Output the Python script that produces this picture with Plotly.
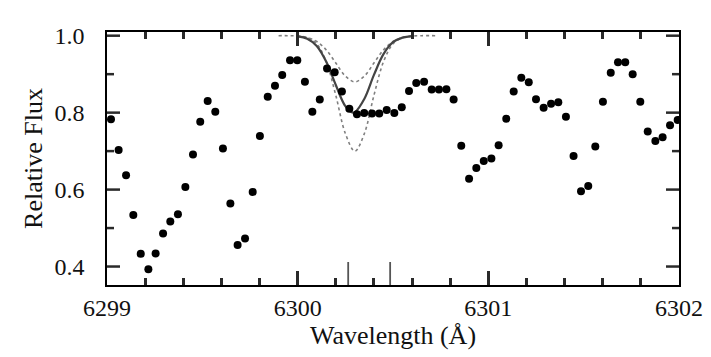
import plotly.graph_objects as go

# Observed spectrum (wavelength in Angstrom, relative flux)
wavelength = [
    6299.021, 6299.061, 6299.100, 6299.138, 6299.177, 6299.217, 6299.255, 6299.294,
    6299.332, 6299.372, 6299.411, 6299.451, 6299.489, 6299.528, 6299.568, 6299.608,
    6299.647, 6299.685, 6299.724, 6299.764, 6299.802, 6299.843, 6299.881, 6299.919,
    6299.960, 6299.998, 6300.038, 6300.077, 6300.116, 6300.154, 6300.194, 6300.232,
    6300.271, 6300.311, 6300.349, 6300.390, 6300.428, 6300.467, 6300.507, 6300.546,
    6300.584, 6300.622, 6300.663, 6300.703, 6300.741, 6300.780, 6300.818, 6300.858,
    6300.899, 6300.937, 6300.976, 6301.016, 6301.054, 6301.094, 6301.133, 6301.173,
    6301.212, 6301.250, 6301.290, 6301.329, 6301.367, 6301.407, 6301.447, 6301.486,
    6301.524, 6301.561, 6301.601, 6301.642, 6301.680, 6301.718, 6301.757, 6301.797,
    6301.836, 6301.876, 6301.914, 6301.953, 6301.993,
]
flux = [
    0.783, 0.703, 0.637, 0.534, 0.433, 0.393, 0.434, 0.486,
    0.517, 0.536, 0.607, 0.691, 0.776, 0.830, 0.802, 0.707,
    0.564, 0.456, 0.473, 0.594, 0.739, 0.841, 0.870, 0.898,
    0.936, 0.936, 0.880, 0.802, 0.834, 0.915, 0.905, 0.855,
    0.810, 0.796, 0.799, 0.798, 0.798, 0.807, 0.799, 0.814,
    0.856, 0.877, 0.880, 0.860, 0.860, 0.861, 0.834, 0.714,
    0.628, 0.656, 0.674, 0.681, 0.715, 0.784, 0.855, 0.891,
    0.879, 0.835, 0.813, 0.823, 0.827, 0.789, 0.687, 0.596,
    0.609, 0.712, 0.828, 0.904, 0.931, 0.931, 0.900, 0.828,
    0.751, 0.726, 0.736, 0.767, 0.781,
]

# Model profile (solid)
model_wl = [6300.00, 6300.05, 6300.10, 6300.15, 6300.20, 6300.25, 6300.29, 6300.30,
            6300.35, 6300.40, 6300.45, 6300.50, 6300.55, 6300.60]
model_flux = [0.998, 0.992, 0.973, 0.932, 0.872, 0.817, 0.800, 0.801,
              0.836, 0.898, 0.952, 0.983, 0.995, 0.999]

# Deeper model (dotted)
deep_wl = [6299.90, 6299.95, 6300.00, 6300.05, 6300.10, 6300.15, 6300.20, 6300.25,
           6300.30, 6300.35, 6300.40, 6300.45, 6300.50, 6300.55, 6300.60, 6300.65, 6300.73]
deep_flux = [1.000, 1.000, 0.999, 0.995, 0.979, 0.932, 0.845, 0.746,
             0.700, 0.746, 0.845, 0.932, 0.979, 0.995, 0.999, 1.000, 1.000]

# Shallower model (dotted)
shallow_wl = [6300.00, 6300.05, 6300.10, 6300.15, 6300.20, 6300.25, 6300.30,
              6300.35, 6300.40, 6300.45, 6300.50, 6300.55, 6300.60]
shallow_flux = [0.999, 0.995, 0.985, 0.963, 0.929, 0.895, 0.880,
                0.895, 0.929, 0.963, 0.985, 0.995, 0.999]

# Line-position markers along the bottom axis
marker_wavelengths = [6300.265, 6300.485]

# Axis tick positions
x_major = [6299, 6300, 6301, 6302]
y_major = [0.4, 0.6, 0.8, 1.0]
y_minor = [0.5, 0.7, 0.9]

FONT = "Liberation Serif"
TXT = "#111111"
TICK = "#2a2a2a"

fig = go.Figure()
fig.add_trace(go.Scatter(x=deep_wl, y=deep_flux, mode="lines", line_shape="spline",
                         line=dict(color="#808080", width=1.6, dash="dot"), hoverinfo="skip"))
fig.add_trace(go.Scatter(x=shallow_wl, y=shallow_flux, mode="lines", line_shape="spline",
                         line=dict(color="#808080", width=1.6, dash="dot"), hoverinfo="skip"))
fig.add_trace(go.Scatter(x=model_wl, y=model_flux, mode="lines", line_shape="spline",
                         line=dict(color="#444444", width=2.2)))
fig.add_trace(go.Scatter(x=wavelength, y=flux, mode="markers",
                         marker=dict(color="black", size=8)))

for w in marker_wavelengths:
    fig.add_shape(type="line", xref="x", yref="paper", x0=w, x1=w, y0=0, y1=0.091,
                  line=dict(color="#555555", width=1.8), opacity=1)

# Inside y-axis ticks on left and right (pixel-sized shapes)
def ytick(v, length):
    for anchor, sgn in ((0, 1), (1, -1)):
        fig.add_shape(type="line", xref="paper", yref="y", xsizemode="pixel", xanchor=anchor,
                      y0=v, y1=v, x0=0, x1=sgn * length,
                      line=dict(color=TICK, width=2.5), opacity=1)

for v in y_major:
    ytick(v, 13)
for v in y_minor:
    ytick(v, 7)

fig.update_layout(
    width=711, height=357,
    margin=dict(l=107, r=32, t=32, b=72),
    paper_bgcolor="white", plot_bgcolor="white",
    showlegend=False,
    font=dict(family=FONT, color=TXT),
)
fig.update_xaxes(
    range=[6299, 6302], tickmode="array", tickvals=x_major,
    ticktext=[str(v) for v in x_major], ticks="inside", ticklen=14, tickwidth=2.5, tickcolor=TICK,
    minor=dict(dtick=0.2, tick0=6299, ticks="inside", ticklen=7, tickwidth=2.5, tickcolor=TICK),
    showline=True, linecolor="black", linewidth=1.5, mirror="allticks",
    showgrid=False, zeroline=False, automargin=False,
    tickfont=dict(size=24, family=FONT, color=TXT),
    title=dict(text="Wavelength (Å)", font=dict(size=26, family=FONT, color=TXT), standoff=6),
)
fig.update_yaxes(
    range=[0.352, 1.0096], tickmode="array", tickvals=y_major,
    ticktext=[f"{v:.1f}" for v in y_major], ticks="",
    showline=True, linecolor="black", linewidth=1.5, mirror=True,
    showgrid=False, zeroline=False, automargin=False, ticklabelstandoff=16,
    tickfont=dict(size=24, family=FONT, color=TXT),
    title=dict(text="Relative Flux", font=dict(size=26, family=FONT, color=TXT), standoff=4),
)

fig.write_html("out.html")
